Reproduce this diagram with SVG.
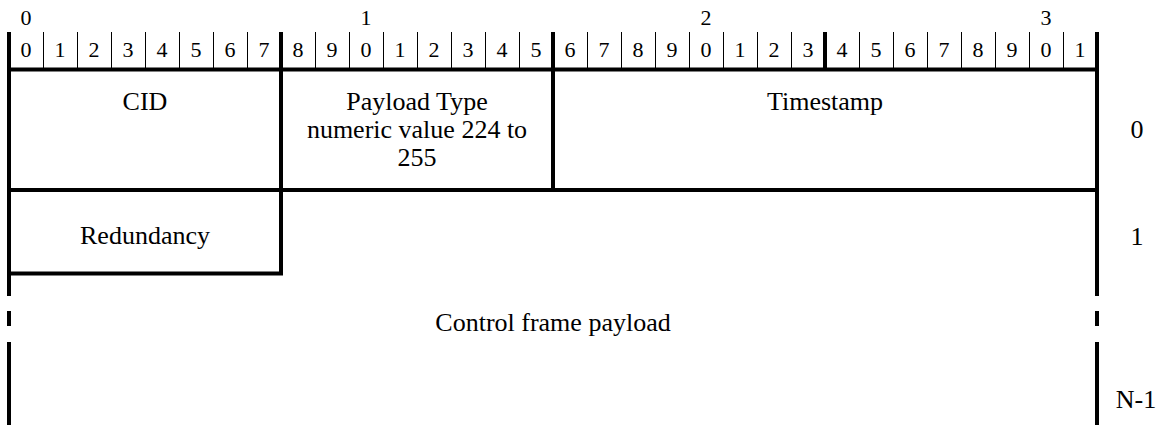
<svg xmlns="http://www.w3.org/2000/svg" width="1159" height="425" viewBox="0 0 1159 425">
  <style>
    .thick { stroke: #000; stroke-width: 4; fill: none; }
    .thin { stroke: #000; stroke-width: 1; fill: none; }
    text { font-family: "Liberation Serif", Tinos, "Times New Roman", Times, "DejaVu Serif", serif; text-anchor: middle; fill: #000; }
    .digit { font-size: 22px; }
    .label { font-size: 26px; }
  </style>
  <rect width="1159" height="425" fill="#fff"/>

  <!-- bit ruler: tens row, bit numbers, tick marks -->
  <g id="ruler">
    <text class="digit" x="26" y="25">0</text>
    <text class="digit" x="366" y="25">1</text>
    <text class="digit" x="706" y="25">2</text>
    <text class="digit" x="1046" y="25">3</text>
    <g>
      <text class="digit" x="26" y="57">0</text>
      <text class="digit" x="60" y="57">1</text>
      <text class="digit" x="94" y="57">2</text>
      <text class="digit" x="128" y="57">3</text>
      <text class="digit" x="162" y="57">4</text>
      <text class="digit" x="196" y="57">5</text>
      <text class="digit" x="230" y="57">6</text>
      <text class="digit" x="264" y="57">7</text>
      <text class="digit" x="298" y="57">8</text>
      <text class="digit" x="332" y="57">9</text>
      <text class="digit" x="366" y="57">0</text>
      <text class="digit" x="400" y="57">1</text>
      <text class="digit" x="434" y="57">2</text>
      <text class="digit" x="468" y="57">3</text>
      <text class="digit" x="502" y="57">4</text>
      <text class="digit" x="536" y="57">5</text>
      <text class="digit" x="570" y="57">6</text>
      <text class="digit" x="604" y="57">7</text>
      <text class="digit" x="638" y="57">8</text>
      <text class="digit" x="672" y="57">9</text>
      <text class="digit" x="706" y="57">0</text>
      <text class="digit" x="740" y="57">1</text>
      <text class="digit" x="774" y="57">2</text>
      <text class="digit" x="808" y="57">3</text>
      <text class="digit" x="842" y="57">4</text>
      <text class="digit" x="876" y="57">5</text>
      <text class="digit" x="910" y="57">6</text>
      <text class="digit" x="944" y="57">7</text>
      <text class="digit" x="978" y="57">8</text>
      <text class="digit" x="1012" y="57">9</text>
      <text class="digit" x="1046" y="57">0</text>
      <text class="digit" x="1080" y="57">1</text>
    </g>
    <path class="thin" d="M43.5 32V69 M77.5 32V69 M111.5 32V69 M145.5 32V69 M179.5 32V69 M213.5 32V69 M247.5 32V69
                          M315.5 32V69 M349.5 32V69 M383.5 32V69 M417.5 32V69 M451.5 32V69 M485.5 32V69 M519.5 32V69
                          M587.5 32V69 M621.5 32V69 M655.5 32V69 M689.5 32V69 M723.5 32V69 M757.5 32V69 M791.5 32V69
                          M859.5 32V69 M893.5 32V69 M927.5 32V69 M961.5 32V69 M995.5 32V69 M1029.5 32V69 M1063.5 32V69"/>
    <path class="thick" d="M825 32V69.5"/>
  </g>

  <!-- word 0 -->
  <g id="cid">
    <path class="thick" d="M7 69.5H281 M281 32V190"/>
    <text class="label" x="145" y="110">CID</text>
  </g>
  <g id="payload-type">
    <path class="thick" d="M281 69.5H553 M553 32V190"/>
    <text class="label" x="417" y="110">Payload Type</text>
    <text class="label" x="417" y="138">numeric value 224 to</text>
    <text class="label" x="417" y="166">255</text>
  </g>
  <g id="timestamp">
    <path class="thick" d="M553 69.5H1099 M7 190H1099"/>
    <text class="label" x="825" y="110">Timestamp</text>
  </g>

  <!-- word 1 -->
  <g id="redundancy">
    <path class="thick" d="M281 188V275.5 M7 273.5H283"/>
    <text class="label" x="145" y="244">Redundancy</text>
  </g>

  <!-- variable-length payload with broken side walls -->
  <g id="control-frame-payload">
    <path class="thick" d="M9 32V296 M9 311V326 M9 342V425"/>
    <path class="thick" d="M1097 32V296 M1097 311V326 M1097 342V425"/>
    <text class="label" x="553" y="331">Control frame payload</text>
  </g>

  <!-- word indices -->
  <g id="word-index">
    <text class="label" x="1137" y="138">0</text>
    <text class="label" x="1137" y="245">1</text>
    <text class="label" x="1136" y="408">N-1</text>
  </g>

  <g id="connectors"/>
</svg>
